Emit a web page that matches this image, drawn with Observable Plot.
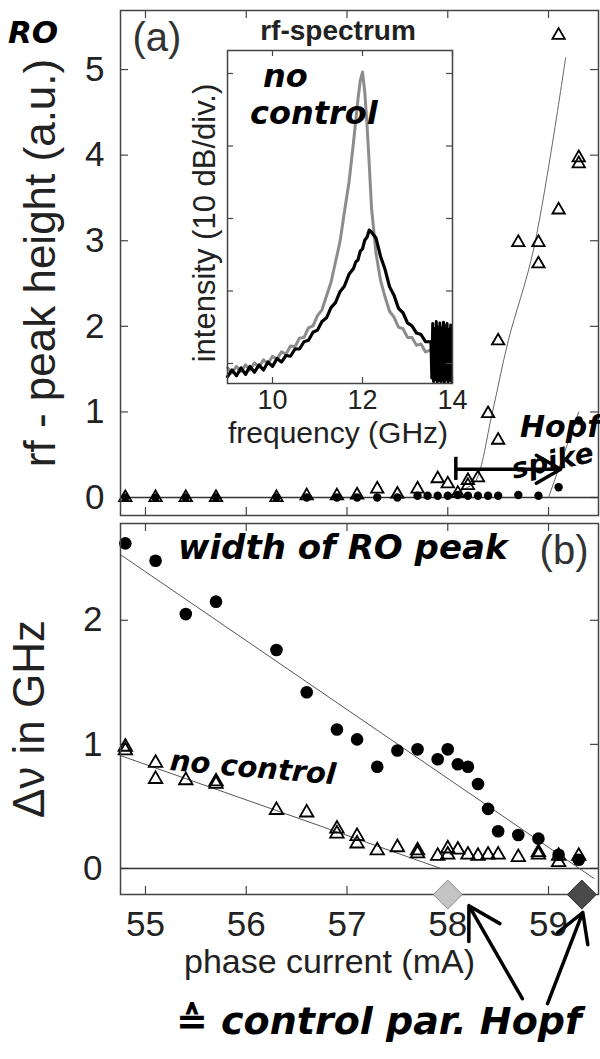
<!DOCTYPE html>
<html><head><meta charset="utf-8">
<script src="https://cdn.jsdelivr.net/npm/d3@7"></script>
<script src="https://cdn.jsdelivr.net/npm/@observablehq/plot@0.6"></script>
<style>
body{margin:0;background:#fff;}
#wrap{position:relative;width:600px;height:1059px;overflow:hidden;font-family:"Liberation Sans",Arial,sans-serif;}
.abs{position:absolute;}
.hw{position:absolute;font-family:"DejaVu Sans";font-weight:bold;font-style:oblique;color:#000;white-space:nowrap;line-height:1;}
</style></head><body><div id="wrap"></div>
<script>
// ---------- data: panel (a) rf peak height ----------
const triAX = [54.8,55.1,55.4,55.7,56.3,56.6,56.9,57.1,57.3,57.5,57.7,57.9,58.0,58.1,58.2,58.2,58.3,58.4,58.5,58.5,58.7,58.9,58.9,59.1,59.1,59.3,59.3];
const triAY = [0,0,0,0,0,0.02,0.02,0.03,0.1,0.04,0.1,0.22,0.16,0.05,0.2,0.14,0.23,0.98,0.67,1.83,2.98,2.98,2.73,3.36,5.40,3.97,3.90];
const circAX = [54.8,55.1,55.4,55.7,56.3,56.6,56.9,57.1,57.3,57.5,57.7,57.8,57.9,58.0,58.1,58.2,58.3,58.4,58.5,58.7,58.9,59.1,59.3];
const circAY = [0,0,0,0,0,0,0,0,0,0,0.02,0.02,0.02,0.02,0.03,0.02,0.02,0.02,0.02,0.03,0.02,0.12,0.9];
const fitTriAX = [58.0,58.2,58.28,58.44,58.6,58.85,59.17];
const fitTriAY = [0.02,0.12,0.2,0.98,1.83,2.89,5.14];
const fitCircAX = [59.0,59.3];
const fitCircAY = [0,1.0];
// ---------- data: panel (b) width of RO peak ----------
const triBX = [54.8,54.8,55.1,55.1,55.4,55.7,55.7,56.3,56.6,56.9,56.9,57.1,57.1,57.3,57.5,57.7,57.7,57.9,58.0,58.0,58.1,58.2,58.3,58.4,58.5,58.7,58.9,58.9,59.1,59.1,59.3];
const triBY = [0.98,0.95,0.85,0.72,0.71,0.70,0.68,0.47,0.45,0.32,0.28,0.26,0.20,0.145,0.17,0.145,0.12,0.10,0.16,0.11,0.15,0.11,0.10,0.11,0.11,0.09,0.13,0.11,0.10,0.05,0.10];
const circBX = [54.8,55.1,55.4,55.7,56.3,56.6,56.9,57.1,57.3,57.5,57.7,57.9,58.0,58.1,58.2,58.3,58.4,58.5,58.7,58.9,59.1,59.3];
const circBY = [2.62,2.48,2.05,2.15,1.76,1.42,1.12,1.04,0.82,0.95,0.96,0.88,0.96,0.84,0.82,0.68,0.48,0.30,0.27,0.24,0.11,0.07];
const fitCircBX = [54.75,59.45];
const fitCircBY = [2.53,-0.08];
const fitTriBX = [54.75,57.93];
const fitTriBY = [0.91,0.0];
const hopfX = [58.0,59.33];
const hopfFill = ["#c4c4c4","#4a4a4a"];
const hopfStroke = ["#8a8a8a","#2a2a2a"];
// ---------- data: inset rf-spectrum ----------
const specF = [9.0,9.1,9.2,9.3,9.4,9.5,9.6,9.7,9.8,9.9,10.0,10.1,10.2,10.3,10.4,10.5,10.6,10.7,10.8,10.9,11.0,11.1,11.2,11.3,11.4,11.5,11.6,11.7,11.8,11.85,11.9,11.95,12.0,12.05,12.1,12.15,12.2,12.3,12.4,12.5,12.6,12.7,12.8,12.9,13.0,13.1,13.2,13.3,13.4,13.5];
const grayDb = [-0.6,-1.3,-0.4,-1.1,-0.2,-0.9,0.1,-0.5,0.5,0.0,1.0,0.6,1.6,1.3,2.4,2.3,3.5,3.6,4.9,5.2,6.6,7.4,9.3,11.2,14.0,16.8,21.0,25.0,30.5,33.5,36.5,39.0,40.2,37.5,33.0,27.5,21.5,15.2,11.5,9.2,7.2,6.4,5.0,4.8,3.6,3.6,2.5,2.7,1.6,1.8];
const blackDb = [-1.8,-0.9,-1.7,-0.6,-1.5,-0.4,-1.2,-0.2,-0.9,0.2,-0.4,0.7,0.2,1.1,1.0,2.0,2.0,3.0,3.2,4.3,4.6,5.8,6.3,7.7,8.4,9.9,10.7,12.3,13.1,14.0,14.3,15.5,15.8,17.0,17.4,18.4,18.1,17.3,14.8,13.0,10.6,9.4,7.6,7.0,5.6,5.2,4.2,4.0,3.0,3.0];
const tailF = [13.52,13.54,13.56,13.58,13.60,13.62,13.64,13.66,13.68,13.70,13.72,13.74,13.76,13.78,13.80,13.82,13.84,13.86,13.88,13.90,13.92,13.94,13.96,13.98];
const tailDb = [3.0,-2.0,5.5,-2.5,4.8,-2.2,5.8,-2.6,5.0,-2.3,5.6,-2.5,4.9,-2.4,5.7,-2.6,5.2,-2.2,5.5,-2.6,4.7,-2.3,5.3,-2.5];
// ---------- ticks / labels ----------
const xTicks = [55,56,57,58,59];
const yTicksA = [0,1,2,3,4,5];
const yTicksB = [0,1,2];
const insetXTicks = [10,12,14];
const insetYTicks = [0,10,20,30,40];
// annotation arrows (data space)
const arrBX1 = [58.74,58.99], arrBY1 = [-1.05,-1.09], arrBX2 = [58.21,59.34], arrBY2 = [-0.30,-0.355];
const spikeX1 = [58.08], spikeX2 = [59.12], spikeY = [0.33];

const FONT = "Liberation Sans, Arial, sans-serif";
const fmt = d => String(d);
const zip = (xs, ys) => xs.map((x,i)=>({x, y: ys[i], i}));

function frameTicks(xt, yt, xd, yd, fw, fh, len, stroke, sw) {
  const lx = len*(yd[1]-yd[0])/fh, ly = len*(xd[1]-xd[0])/fw;
  return [
    Plot.ruleX(xt, {x: d=>d, y1: yd[0], y2: yd[0]+lx, stroke, strokeWidth: sw}),
    Plot.ruleX(xt, {x: d=>d, y1: yd[1], y2: yd[1]-lx, stroke, strokeWidth: sw}),
    Plot.ruleY(yt, {y: d=>d, x1: xd[0], x2: xd[0]+ly, stroke, strokeWidth: sw}),
    Plot.ruleY(yt, {y: d=>d, x1: xd[1], x2: xd[1]-ly, stroke, strokeWidth: sw})
  ];
}
const wrap = document.getElementById("wrap");
function place(el, left, top) { el.classList.add("abs"); el.style.left = left+"px"; el.style.top = top+"px"; wrap.appendChild(el); }

// ---------- panel (a) ----------
const aXd = [54.752, 59.496], aYd = [-0.21, 5.69];
const plotA = Plot.plot({
  width: 600, height: 520, marginLeft: 120, marginRight: 2, marginTop: 10, marginBottom: 5,
  x: {domain: aXd, axis: null}, y: {domain: aYd},
  style: {fontFamily: FONT, color: "#222", background: "transparent", overflow: "visible"},
  marks: [
    ...frameTicks(xTicks, yTicksA, aXd, aYd, 478, 505, 8, "#444", 1.2),
    Plot.ruleY([0], {stroke: "#333", strokeWidth: 1.6}),
    Plot.line(zip(fitTriAX, fitTriAY), {x: "x", y: "y", stroke: "#666", strokeWidth: 1, curve: "catmull-rom"}),
    Plot.line(zip(fitCircAX, fitCircAY), {x: "x", y: "y", stroke: "#666", strokeWidth: 1}),
    Plot.dot(zip(circAX, circAY), {x: "x", y: "y", r: 4.2, fill: "#000", stroke: "none"}),
    Plot.dot(zip(triAX, triAY), {x: "x", y: "y", symbol: "triangle", r: 4.6, fill: "none", stroke: "#000", strokeWidth: 1.8}),
    Plot.ruleX(spikeX1, {x: d=>d, y1: 0.2, y2: 0.47, stroke: "#000", strokeWidth: 3.5}),
    Plot.arrow(spikeX1.map((x,i)=>({x1:x, x2: spikeX2[i], y: spikeY[i]})), {x1: "x1", x2: "x2", y1: "y", y2: "y", stroke: "#000", strokeWidth: 3.5, headLength: 12}),
    Plot.frame({stroke: "#444", strokeWidth: 1.5}),
    Plot.axisY(yTicksA, {tickSize: 0, tickPadding: 16, fontSize: 35, tickFormat: fmt, label: null}),
    Plot.text(["rf - peak height (a.u.)"], {text: d=>d, frameAnchor: "left", textAnchor: "middle", lineAnchor: "middle", rotate: -90, dx: -80, dy: 0, fontSize: 44, fill: "#222"}),
    Plot.text(["(a)"], {text: d=>d, frameAnchor: "top-left", textAnchor: "start", lineAnchor: "top", dx: 12, dy: 12, fontSize: 40, fill: "#333"})
  ]
});
place(plotA, 0, 0);

// ---------- inset ----------
const iXd = [9.0, 14.0], iYd = [-2.76, 43.17];
const inset = Plot.plot({
  width: 290, height: 440, marginLeft: 47, marginRight: 18, marginTop: 40, marginBottom: 67,
  x: {domain: iXd}, y: {domain: iYd, axis: null},
  style: {fontFamily: FONT, color: "#222", background: "transparent", overflow: "visible"},
  marks: [
    Plot.frame({fill: "#fff", stroke: "none"}),
    Plot.line(zip(specF, grayDb), {x: "x", y: "y", stroke: "#8c8c8c", strokeWidth: 3}),
    Plot.line(zip(specF, blackDb), {x: "x", y: "y", stroke: "#000", strokeWidth: 3.2}),
    Plot.line(zip(tailF, tailDb), {x: "x", y: "y", stroke: "#000", strokeWidth: 3}),
    ...frameTicks(insetXTicks, insetYTicks, iXd, iYd, 225, 333, 6, "#444", 1.2),
    Plot.frame({stroke: "#444", strokeWidth: 1.5}),
    Plot.axisX(insetXTicks, {tickSize: 0, tickPadding: 6, fontSize: 27, tickFormat: fmt, label: null}),
    Plot.text(["frequency (GHz)"], {text: d=>d, frameAnchor: "bottom", textAnchor: "middle", lineAnchor: "middle", dx: -2, dy: 50, fontSize: 30, fill: "#222"}),
    Plot.text(["intensity (10 dB/div.)"], {text: d=>d, frameAnchor: "left", textAnchor: "middle", lineAnchor: "middle", rotate: -90, dx: -22, dy: 6, fontSize: 31, fill: "#222"}),
    Plot.text(["rf-spectrum"], {text: d=>d, frameAnchor: "top", textAnchor: "middle", lineAnchor: "middle", dx: -2, dy: -19, fontSize: 28, fontWeight: "bold", fill: "#222"})
  ]
});
place(inset, 180, 10);

// ---------- panel (b) ----------
const bXd = [54.752, 59.496], bYd = [-0.21, 2.78];
const plotB = Plot.plot({
  width: 600, height: 539, marginLeft: 120, marginRight: 2, marginTop: 3, marginBottom: 165,
  x: {domain: bXd}, y: {domain: bYd},
  style: {fontFamily: FONT, color: "#222", background: "transparent", overflow: "visible"},
  marks: [
    ...frameTicks(xTicks, yTicksB, bXd, bYd, 478, 371, 8, "#444", 1.2),
    Plot.ruleY([0], {stroke: "#333", strokeWidth: 1.6}),
    Plot.line(zip(fitCircBX, fitCircBY), {x: "x", y: "y", stroke: "#555", strokeWidth: 1}),
    Plot.line(zip(fitTriBX, fitTriBY), {x: "x", y: "y", stroke: "#555", strokeWidth: 1}),
    Plot.dot(zip(circBX, circBY), {x: "x", y: "y", r: 6.3, fill: "#000", stroke: "none"}),
    Plot.dot(zip(triBX, triBY), {x: "x", y: "y", symbol: "triangle", r: 5, fill: "none", stroke: "#000", strokeWidth: 1.8}),
    Plot.frame({stroke: "#444", strokeWidth: 1.5}),
    Plot.dot(hopfX.map((x,i)=>({x, i})), {x: "x", y: () => bYd[0], symbol: "diamond2", r: 13, fill: d => hopfFill[d.i], stroke: d => hopfStroke[d.i], strokeWidth: 1}),
    Plot.axisY(yTicksB, {tickSize: 0, tickPadding: 18, fontSize: 35, tickFormat: fmt, label: null}),
    Plot.axisX(xTicks, {tickSize: 0, tickPadding: 17, fontSize: 35, tickFormat: fmt, label: null}),
    Plot.text(["phase current (mA)"], {text: d=>d, frameAnchor: "bottom", textAnchor: "middle", lineAnchor: "middle", dx: -30, dy: 68, fontSize: 34, fill: "#222"}),
    Plot.text(["\u0394\u03bd in GHz"], {text: d=>d, frameAnchor: "left", textAnchor: "middle", lineAnchor: "middle", rotate: -90, dx: -91, dy: 10, fontSize: 44, fill: "#222"}),
    Plot.text(["(b)"], {text: d=>d, frameAnchor: "top-right", textAnchor: "end", lineAnchor: "top", dx: -10, dy: 12, fontSize: 40, fill: "#333"}),
    Plot.arrow(arrBX1.map((x,i)=>({x1: x, y1: arrBY1[i], x2: arrBX2[i], y2: arrBY2[i]})), {x1: "x1", y1: "y1", x2: "x2", y2: "y2", stroke: "#000", strokeWidth: 3.5, headLength: 16})
  ]
});
place(plotB, 0, 520);

// ---------- handwritten annotations ----------
const notes = [
  {t: "RO", l: 8, tp: 17, s: 31},
  {t: "no", l: 263, tp: 60, s: 32},
  {t: "control", l: 250, tp: 97, s: 32},
  {t: "Hopf", l: 520, tp: 412, s: 30},
  {t: "spike", l: 512, tp: 456, s: 28, r: -12},
  {t: "width of RO peak", l: 178, tp: 530, s: 34},
  {t: "no control", l: 170, tp: 746, s: 29, r: 5},
  {t: "\u2259 control par. Hopf", l: 176, tp: 1002, s: 38}
];
for (const n of notes) {
  const d = document.createElement("div");
  d.className = "hw"; d.textContent = n.t;
  d.style.left = n.l + "px"; d.style.top = n.tp + "px"; d.style.fontSize = n.s + "px";
  if (n.r) { d.style.transform = `rotate(${n.r}deg)`; d.style.transformOrigin = "left center"; }
  wrap.appendChild(d);
}
</script></body></html>
